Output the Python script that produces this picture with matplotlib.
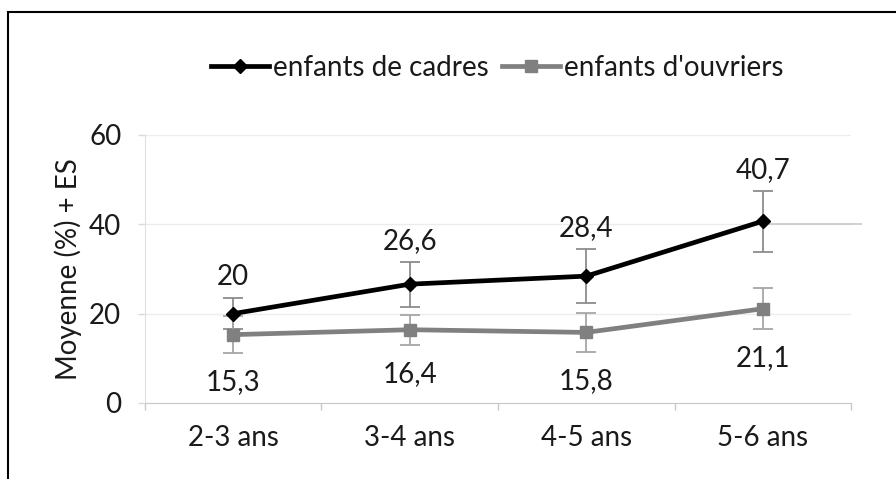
import matplotlib
matplotlib.use("Agg")
import matplotlib.pyplot as plt
import matplotlib.patches as patches
import numpy as np

# data
categories = ["2-3 ans", "3-4 ans", "4-5 ans", "5-6 ans"]
cadres = [20, 26.6, 28.4, 40.7]
cadres_es = [3.5, 5.0, 6.0, 6.8]
ouvriers = [15.3, 16.4, 15.8, 21.1]
ouvriers_es = [4.1, 3.4, 4.3, 4.6]
cadres_labels = ["20", "26,6", "28,4", "40,7"]
ouvriers_labels = ["15,3", "16,4", "15,8", "21,1"]

plt.rcParams["font.family"] = ["Lato", "DejaVu Sans"]
fs = 20

fig = plt.figure(figsize=(8.96, 4.79), dpi=100)
ax = fig.add_axes([0.1618, 0.1587, 0.7880, 0.5595])

x = np.arange(len(categories))

# error bars first, lines on top
ax.errorbar(x, cadres, yerr=cadres_es, fmt="none", ecolor="#8c8c8c",
            elinewidth=1.3, capsize=7, capthick=1.3, zorder=2)
ax.errorbar(x, ouvriers, yerr=ouvriers_es, fmt="none", ecolor="#a6a6a6",
            elinewidth=1.3, capsize=7, capthick=1.3, zorder=2)

ax.plot(x, cadres, color="black", lw=3.4, marker="D", markersize=7,
        label="enfants de cadres", zorder=4)
ax.plot(x, ouvriers, color="#808080", lw=3.4, marker="s", markersize=8,
        label="enfants d'ouvriers", zorder=3)

# data labels
for i in range(len(x)):
    ax.annotate(cadres_labels[i], (x[i], cadres[i] + cadres_es[i]),
                xytext=(0, 15), textcoords="offset points",
                ha="center", va="center", fontsize=fs, color="#1a1a1a")
    ax.annotate(ouvriers_labels[i], (x[i], ouvriers[i] - ouvriers_es[i]),
                xytext=(0, -21), textcoords="offset points",
                ha="center", va="center", fontsize=fs, color="#1a1a1a")

# stray gridline piece right of the last point
ax.hlines(40, 3.03, 3.56, color="#c8c8c8", lw=1.2, clip_on=False, zorder=1)

ax.set_xlim(-0.5, 3.5)
ax.set_ylim(0, 60)
ax.set_yticks([0, 20, 40, 60])
ax.grid(axis="y", color="#ececec", lw=1)
ax.set_axisbelow(True)

ax.set_xticks(np.arange(-0.5, 4, 1))
ax.set_xticklabels([])
ax.set_xticks(x, minor=True)
ax.set_xticklabels(categories, minor=True)
ax.tick_params(axis="x", which="major", length=5, color="#c8c8c8", width=1)
ax.tick_params(axis="x", which="minor", length=0, pad=16, labelsize=fs,
               labelcolor="#1a1a1a")
ax.tick_params(axis="y", length=5, color="#d8d8d8", width=1, pad=12,
               labelsize=fs, labelcolor="#1a1a1a")

for s in ["top", "right"]:
    ax.spines[s].set_visible(False)
ax.spines["left"].set_color("#e0e0e0")
ax.spines["bottom"].set_color("#c8c8c8")

ax.set_ylabel("Moyenne (%) + ES", fontsize=fs, color="#1a1a1a")
ax.yaxis.set_label_coords(-0.089, 0.5)

fig.legend(loc="center", bbox_to_anchor=(0.555, 0.858), ncol=2, frameon=False,
           handlelength=2.1, handletextpad=0.15, columnspacing=0.45,
           fontsize=fs, labelcolor="#1a1a1a")

# outer frame (cut at right and bottom)
fig.patches.append(patches.Rectangle((8 / 896, -0.2), 1.2, 1.2 - 12 / 479,
                                     transform=fig.transFigure, fill=False,
                                     edgecolor="black", lw=1.5))

fig.savefig("out.png", dpi=100)
